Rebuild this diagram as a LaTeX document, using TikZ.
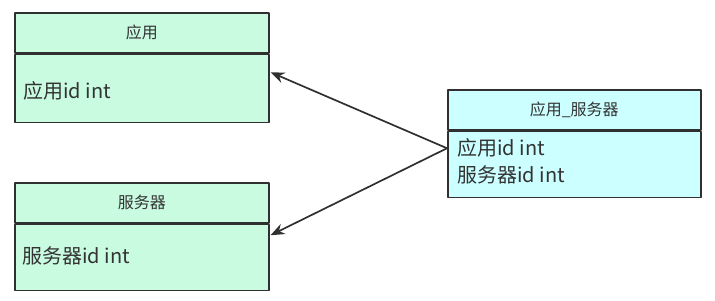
\documentclass[tikz,border=0pt]{standalone}
\usepackage{fontspec}
\setmainfont{Noto Sans CJK SC}
\usetikzlibrary{arrows.meta}
\definecolor{mintfill}{HTML}{C8FBE0}
\definecolor{cyanfill}{HTML}{CCFFFF}
\definecolor{boxline}{HTML}{303030}
\definecolor{inktext}{HTML}{333333}
\begin{document}
\begin{tikzpicture}[x=1pt,y=-1pt,line cap=round,line join=round,
  hdr/.style={draw=boxline,line width=1.5pt,minimum width=254pt,minimum height=40pt,
    inner sep=0pt,anchor=north west,text=inktext,font=\fontsize{16}{18}\selectfont},
  fieldbox/.style={draw=boxline,line width=1.5pt,minimum width=254pt,inner sep=0pt,anchor=north west},
  fieldtxt/.style={anchor=west,inner sep=0pt,align=left,text=inktext,font=\fontsize{20}{27}\selectfont},
  link/.style={draw=boxline,line width=1.7pt,-{Stealth[length=14pt,width=11pt]}}]
  \useasboundingbox (0,0) rectangle (715,300);
  % left tables
  \node[hdr,fill=mintfill] (app) at (14,12) {应用};
  \node[fieldbox,fill=mintfill,minimum height=68pt] (appbody) at (app.south west) {};
  \node[fieldtxt] (apptxt) at ([xshift=9pt,yshift=-3pt]appbody.west) {应用id int};
  \node[hdr,fill=mintfill] (serv) at (14,182) {服务器};
  \node[fieldbox,fill=mintfill,minimum height=66pt] (servbody) at (serv.south west) {};
  \node[fieldtxt] (servtxt) at ([xshift=8pt,yshift=1pt]servbody.west) {服务器id int};
  % link table
  \node[hdr,fill=cyanfill,minimum width=253pt] (appserv) at (447,89) {应用\_服务器};
  \node[fieldbox,fill=cyanfill,minimum width=253pt,minimum height=66pt] (appservbody) at (appserv.south west) {};
  \node[fieldtxt] (appservtxt) at ([xshift=10pt,yshift=3pt]appservbody.west) {应用id int\\服务器id int};
  \coordinate (src) at ([yshift=16pt]appservbody.west);
  \draw[link] (src) -- ([xshift=1pt,yshift=16pt]appbody.east);
  \draw[link] (src) -- ([xshift=1pt,yshift=22pt]servbody.east);
\end{tikzpicture}
\end{document}
